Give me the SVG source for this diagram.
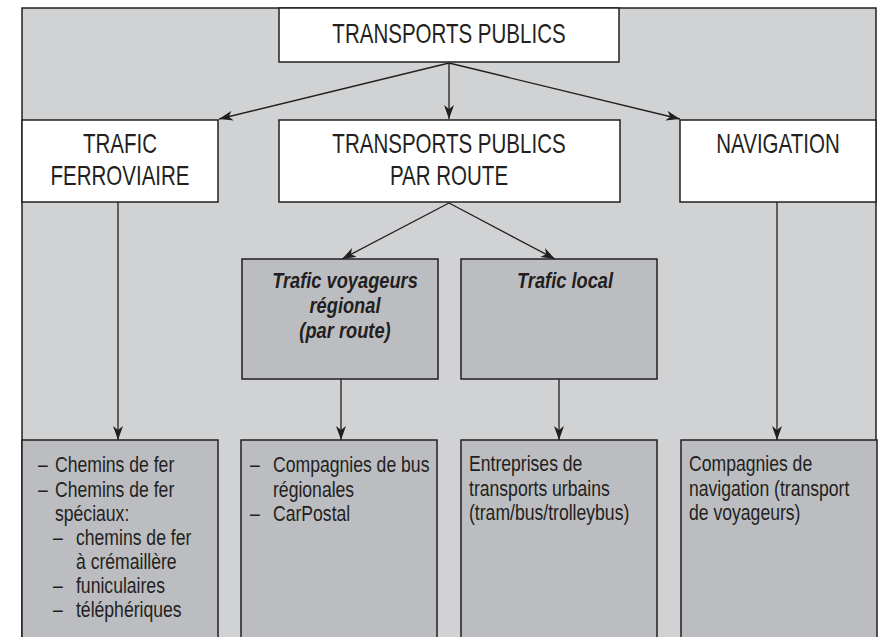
<svg xmlns="http://www.w3.org/2000/svg" width="883" height="637" viewBox="0 0 883 637">
<style>
.bg{fill:#d1d2d4;stroke:#231f20;stroke-width:1.5}
.w{fill:#ffffff;stroke:#231f20;stroke-width:1.5}
.g{fill:#bcbdc0;stroke:#231f20;stroke-width:1.5}
.t{font-family:"Liberation Sans",Arial,sans-serif;fill:#231f20}
.h{font-size:27px;text-anchor:middle}
.bi{font-size:22px;font-weight:bold;font-style:italic;text-anchor:middle}
.s{font-size:22px}
.c{fill:none;stroke:#231f20;stroke-width:1.3}
</style>
<defs>
<marker id="ah" markerUnits="userSpaceOnUse" viewBox="0 0 14 10" refX="14" refY="5" markerWidth="14" markerHeight="10" orient="auto">
<path d="M0,0 L14,5 L0,10 L4,5 Z" fill="#231f20"/>
</marker>
</defs>
<rect class="bg" x="22" y="8" width="854" height="640"/>
<g id="top"><rect class="w" x="279" y="8" width="340" height="54"/><text class="t h" transform="translate(449,0) scale(0.76,1)" x="0" y="43">TRANSPORTS PUBLICS</text></g>
<g id="ferro"><rect class="w" x="22" y="120" width="196" height="82"/><g transform="translate(120,0) scale(0.76,1)"><text class="t h" x="0" y="153">TRAFIC</text><text class="t h" x="0" y="185">FERROVIAIRE</text></g></g>
<g id="route"><rect class="w" x="279" y="120" width="341" height="82"/><g transform="translate(449,0) scale(0.76,1)"><text class="t h" x="0" y="153">TRANSPORTS PUBLICS</text><text class="t h" x="0" y="185">PAR ROUTE</text></g></g>
<g id="nav"><rect class="w" x="680" y="120" width="196" height="82"/><text class="t h" transform="translate(778,0) scale(0.76,1)" x="0" y="153">NAVIGATION</text></g>
<g id="regional"><rect class="g" x="242" y="259" width="196" height="120"/><g transform="translate(345,0) scale(0.83,1)"><text class="t bi" x="0" y="288">Trafic voyageurs</text><text class="t bi" x="0" y="313">régional</text><text class="t bi" x="0" y="338">(par route)</text></g></g>
<g id="local"><rect class="g" x="461" y="259" width="196" height="120"/><text class="t bi" transform="translate(565,0) scale(0.83,1)" x="0" y="288">Trafic local</text></g>
<g id="b1"><rect class="g" x="22" y="440" width="196" height="210"/>
<text class="t s" transform="translate(38,0) scale(0.8,1)"><tspan x="0" y="472">–</tspan><tspan x="21.25" y="472">Chemins de fer</tspan><tspan x="0" y="497">–</tspan><tspan x="21.25" y="497">Chemins de fer</tspan><tspan x="21.25" y="521">spéciaux:</tspan><tspan x="18.75" y="545">–</tspan><tspan x="47.5" y="545">chemins de fer</tspan><tspan x="47.5" y="569">à crémaillère</tspan><tspan x="18.75" y="593">–</tspan><tspan x="47.5" y="593">funiculaires</tspan><tspan x="18.75" y="617">–</tspan><tspan x="47.5" y="617">téléphériques</tspan></text></g>
<g id="b2"><rect class="g" x="241" y="440" width="196" height="210"/>
<text class="t s" transform="translate(250,0) scale(0.8,1)"><tspan x="0" y="472">–</tspan><tspan x="28.75" y="472">Compagnies de bus</tspan><tspan x="28.75" y="497">régionales</tspan><tspan x="0" y="521">–</tspan><tspan x="28.75" y="521">CarPostal</tspan></text></g>
<g id="b3"><rect class="g" x="461" y="440" width="196" height="210"/>
<text class="t s" transform="translate(469,0) scale(0.8,1)"><tspan x="0" y="471">Entreprises de</tspan><tspan x="0" y="496">transports urbains</tspan><tspan x="0" y="520">(tram/bus/trolleybus)</tspan></text></g>
<g id="b4"><rect class="g" x="681" y="440" width="196" height="210"/>
<text class="t s" transform="translate(689,0) scale(0.8,1)"><tspan x="0" y="471">Compagnies de</tspan><tspan x="0" y="496">navigation (transport</tspan><tspan x="0" y="520">de voyageurs)</tspan></text></g>
<g id="connectors">
<line class="c" x1="449" y1="63" x2="219" y2="119" marker-end="url(#ah)"/>
<line class="c" x1="449" y1="63" x2="449" y2="119" marker-end="url(#ah)"/>
<line class="c" x1="449" y1="63" x2="680" y2="119" marker-end="url(#ah)"/>
<line class="c" x1="449" y1="203" x2="342" y2="259" marker-end="url(#ah)"/>
<line class="c" x1="449" y1="203" x2="555" y2="259" marker-end="url(#ah)"/>
<line class="c" x1="118" y1="202" x2="118" y2="440" marker-end="url(#ah)"/>
<line class="c" x1="341" y1="379" x2="341" y2="440" marker-end="url(#ah)"/>
<line class="c" x1="559" y1="379" x2="559" y2="440" marker-end="url(#ah)"/>
<line class="c" x1="777" y1="202" x2="777" y2="440" marker-end="url(#ah)"/>
</g>
</svg>
